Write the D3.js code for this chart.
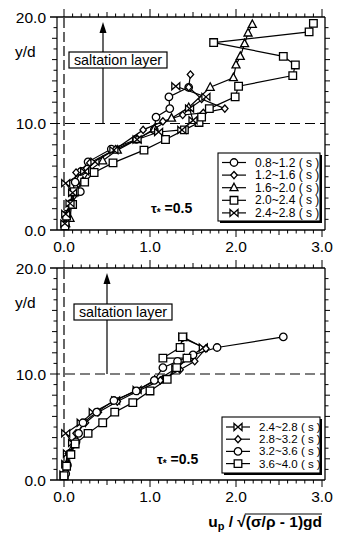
<!DOCTYPE html>
<html><head><meta charset="utf-8">
<script src="https://cdn.jsdelivr.net/npm/d3@7"></script>
<style>
html,body{margin:0;padding:0;background:#fff;}
svg{display:block;font-family:"Liberation Sans",Arial,Helvetica,sans-serif;}
</style></head>
<body><svg id="c" width="337" height="535"></svg>
<script>
// ---------- data ----------
const xTickLabels = ["0.0","1.0","2.0","3.0"];
const yTickLabels = ["0.0","10.0","20.0"];
const topLabels = ["0.8~1.2 ( s )","1.2~1.6 ( s )","1.6~2.0 ( s )","2.0~2.4 ( s )","2.4~2.8 ( s )"];
const topSymbols = ["circle","diamond","triangle","square","bowtie"];
const bottomLabels = ["2.4~2.8 ( s )","2.8~3.2 ( s )","3.2~3.6 ( s )","3.6~4.0 ( s )"];
const bottomSymbols = ["bowtie","diamond","circle","square"];
const tauLabel = "=0.5";
const layerLabel = "saltation layer";

// top panel series  [u_p/..., y/d]
const top_08_12 = [[0.01,0.5],[0.03,1.5],[0.08,2.5],[0.19,3.6],[0.13,4.5],[0.2,5.5],[0.28,6.4],[0.55,7.6],[0.84,8.5],[1.05,9.4],[1.07,10.6],[1.23,11.4],[1.22,12.5],[1.45,13.4]];
const top_12_16 = [[0.02,0.5],[0.04,1.5],[0.09,2.5],[0.1,3.5],[0.14,5.4],[0.3,6.3],[0.6,7.6],[0.92,9.4],[1.15,10.2],[1.38,10.8],[1.62,11.0],[1.87,11.4],[1.6,12.3],[1.45,13.4],[1.47,14.6]];
const top_16_20 = [[0.02,0.6],[0.07,1.1],[0.09,2.5],[0.12,3.5],[0.22,4.6],[0.3,5.6],[0.45,6.5],[0.62,7.5],[0.85,8.5],[1.05,9.5],[1.25,10.5],[1.45,11.5],[1.7,13.4],[1.97,14.3],[2.0,15.5],[2.05,16.3],[2.1,17.5],[2.14,18.5],[2.19,19.3]];
const top_20_24 = [[0.01,0.4],[0.03,1.3],[0.1,2.4],[0.12,3.6],[0.24,4.5],[0.35,5.4],[0.57,6.3],[0.93,7.5],[1.18,8.5],[1.4,9.4],[1.57,10.1],[1.6,10.6],[1.69,11.4],[1.99,12.5],[2.03,13.5],[2.66,14.5],[2.69,15.5],[2.55,16.3],[1.74,17.6],[2.85,18.6],[2.9,19.4]];
const top_24_28 = [[0.01,0.6],[0.02,1.5],[0.07,2.5],[0.1,3.5],[0.02,4.4],[0.24,5.5],[0.36,6.4],[0.58,7.5],[0.85,8.5],[1.1,9.2],[1.37,9.4],[1.5,10.3],[1.46,11.4],[1.65,12.5],[1.3,13.5]];

// bottom panel series
const bot_24_28 = [[0.0,0.5],[0.02,1.5],[0.04,2.5],[0.1,3.5],[0.02,4.4],[0.2,5.4],[0.34,6.4],[0.6,7.5],[0.85,8.5],[1.1,9.5],[1.3,10.5],[1.45,11.5],[1.62,12.5],[1.38,13.5]];
const bot_28_32 = [[0.01,0.5],[0.03,1.5],[0.05,2.5],[0.12,3.4],[0.14,4.4],[0.25,5.4],[0.4,6.4],[0.62,7.4],[0.86,8.4],[1.12,9.4],[1.35,10.4],[1.52,11.2],[1.65,12.4],[1.38,13.4]];
const bot_32_36 = [[0.02,0.6],[0.04,1.4],[0.07,2.5],[0.14,3.6],[0.17,4.4],[0.22,5.4],[0.38,6.4],[0.58,7.5],[0.84,8.4],[1.05,9.4],[1.15,10.6],[1.32,11.2],[1.5,11.8],[1.78,12.5],[2.55,13.5]];
const bot_36_40 = [[0.0,0.4],[0.03,1.3],[0.08,2.4],[0.13,3.4],[0.28,4.4],[0.45,5.4],[0.59,6.4],[0.8,7.3],[1.0,8.4],[1.2,9.5],[1.31,10.6],[1.43,11.5],[1.15,11.5],[1.35,12.5],[1.38,13.5]];

const topSeries = [top_08_12, top_12_16, top_16_20, top_20_24, top_24_28];
const bottomSeries = [bot_24_28, bot_28_32, bot_32_36, bot_36_40];

// ---------- drawing ----------
const svg = d3.select("#c");
const FRAME_L = 57, FRAME_R = 325;
const x = d3.scaleLinear().domain([0,3]).range([64,322]);

function symbolPath(type){
  switch(type){
    case "circle": return d3.symbol(d3.symbolCircle, 44)();
    case "square": return "M-3.8,-3.8H3.8V3.8H-3.8Z";
    case "triangle": return "M0,-4.5L4,3L-4,3Z";
    case "diamond": return "M0,-3.6L3.2,0L0,3.6L-3.2,0Z";
    case "bowtie": return "M-4,-3.5L4,3.5L4,-3.5L-4,3.5Z";
  }
}

function drawPanel(p){
  const y = d3.scaleLinear().domain([0,20]).range([p.yBottom, p.yTop]);
  const g = svg.append("g");
  const line = d3.line().x(d=>x(d[0])).y(d=>y(d[1]));

  // frame lines
  g.append("line").attr("x1",50).attr("x2",FRAME_R).attr("y1",y(0)).attr("y2",y(0)).attr("stroke","#000").attr("stroke-width",1.4);
  g.append("line").attr("x1",50).attr("x2",FRAME_R).attr("y1",y(20)).attr("y2",y(20)).attr("stroke","#000").attr("stroke-width",1.4);
  g.append("line").attr("x1",FRAME_L).attr("x2",FRAME_L).attr("y1",y(20)).attr("y2",y(0)).attr("stroke","#000").attr("stroke-width",1.2);
  g.append("line").attr("x1",FRAME_R).attr("x2",FRAME_R).attr("y1",y(20)).attr("y2",y(0)).attr("stroke","#000").attr("stroke-width",1.3);

  // x ticks (0.1 step)
  const xt = d3.range(0,31).map(i=>i/10);
  xt.forEach(v=>{
    const major = Math.abs(v-Math.round(v))<1e-6;
    const half = !major && Math.abs(v*2-Math.round(v*2))<1e-6;
    const len = major?7:(half?5:3.5);
    g.append("line").attr("x1",x(v)).attr("x2",x(v)).attr("y1",y(0)).attr("y2",y(0)+len).attr("stroke","#000").attr("stroke-width",1);
    g.append("line").attr("x1",x(v)).attr("x2",x(v)).attr("y1",y(20)).attr("y2",y(20)-(major?8:(half?5:3.5))).attr("stroke","#000").attr("stroke-width",1);
  });
  // y ticks (1 step)
  d3.range(1,20).forEach(v=>{
    if(v===10) return;
    const len = v%2===0?5:3.5;
    g.append("line").attr("x1",FRAME_L).attr("x2",FRAME_L-len).attr("y1",y(v)).attr("y2",y(v)).attr("stroke","#000").attr("stroke-width",1);
    g.append("line").attr("x1",FRAME_R).attr("x2",FRAME_R+len).attr("y1",y(v)).attr("y2",y(v)).attr("stroke","#000").attr("stroke-width",1);
  });

  // tick labels
  xTickLabels.forEach(t=>{
    g.append("text").attr("x",x(+t)).attr("y",y(0)+22).attr("text-anchor","middle").attr("font-size",15.5).text(t);
  });
  yTickLabels.forEach(t=>{
    g.append("text").attr("x",46).attr("y",y(+t)+5.5).attr("text-anchor","end").attr("font-size",15.5).text(t);
  });
  g.append("text").attr("x",15).attr("y",y(20)+40).attr("font-size",15.5).text("y/d");

  // reference dashed lines
  g.append("line").attr("x1",50).attr("x2",FRAME_R).attr("y1",y(10)).attr("y2",y(10)).attr("stroke","#000").attr("stroke-width",1.2).attr("stroke-dasharray","10,5");
  g.append("line").attr("x1",x(0)).attr("x2",x(0)).attr("y1",y(20)+1).attr("y2",y(0)).attr("stroke","#000").attr("stroke-width",1.2).attr("stroke-dasharray","10,4");

  // saltation layer arrow + box
  const ax = p.arrowX;
  g.append("line").attr("x1",ax).attr("x2",ax).attr("y1",y(10)).attr("y2",p.arrowTip+10).attr("stroke","#000").attr("stroke-width",1.2);
  g.append("path").attr("d",`M${ax},${p.arrowTip}L${ax+3.5},${p.arrowTip+11}L${ax-3.5},${p.arrowTip+11}Z`).attr("fill","#000");
  g.append("rect").attr("x",p.boxX).attr("y",p.boxY).attr("width",98).attr("height",16).attr("fill","#fff").attr("stroke","#000").attr("stroke-width",1.2);
  g.append("text").attr("x",p.boxX+49).attr("y",p.boxY+12.5).attr("text-anchor","middle").attr("font-size",14.3).text(layerLabel);

  // series
  p.series.forEach((s,i)=>{
    g.append("path").datum(s).attr("d",line).attr("fill","none").attr("stroke","#000").attr("stroke-width",1.2);
  });
  p.series.forEach((s,i)=>{
    g.selectAll(null).data(s).enter().append("path")
      .attr("transform",d=>`translate(${x(d[0])},${y(d[1])})`)
      .attr("d",symbolPath(p.symbols[i])).attr("fill","#fff").attr("stroke","#000").attr("stroke-width",1.3);
  });

  // tau label
  const tt = g.append("text").attr("x",p.tauX).attr("y",p.tauY).attr("font-size",14).attr("font-weight","bold");
  tt.append("tspan").attr("font-size",13).text("τ");
  tt.append("tspan").attr("font-size",10).attr("dy",3).text("*");
  tt.append("tspan").attr("dy",-3).text(" "+tauLabel);

  // legend
  const L = p.legend;
  g.append("rect").attr("x",L.x+2).attr("y",L.y+2).attr("width",L.w).attr("height",L.h).attr("fill","#000");
  g.append("rect").attr("x",L.x).attr("y",L.y).attr("width",L.w).attr("height",L.h).attr("fill","#fff").attr("stroke","#000").attr("stroke-width",1.1);
  p.labels.forEach((lab,i)=>{
    const ry = L.y + L.first + i*L.step;
    g.append("line").attr("x1",L.x+4).attr("x2",L.x+28).attr("y1",ry).attr("y2",ry).attr("stroke","#000").attr("stroke-width",1.2);
    g.append("path").attr("transform",`translate(${L.x+16},${ry})`).attr("d",symbolPath(p.symbols[i])).attr("fill","#fff").attr("stroke","#000").attr("stroke-width",1.3);
    g.append("text").attr("x",L.x+37).attr("y",ry+4).attr("font-size",L.fs).text(lab);
  });
}

drawPanel({yTop:17, yBottom:230, series:topSeries, symbols:topSymbols, labels:topLabels,
  arrowX:103, arrowTip:22, boxX:69, boxY:52, tauX:151, tauY:213,
  legend:{x:218,y:153,w:102,h:68,first:9.5,step:12.6,fs:12}});
drawPanel({yTop:268, yBottom:480, series:bottomSeries, symbols:bottomSymbols, labels:bottomLabels,
  arrowX:107, arrowTip:273, boxX:74, boxY:304, tauX:157, tauY:464,
  legend:{x:222,y:417,w:98,h:56,first:10,step:12.2,fs:11.5}});

// axis title
const at = svg.append("text").attr("font-size",15.5).attr("font-weight","bold").attr("y",527);
at.append("tspan").text("u");
at.append("tspan").attr("font-size",11).attr("dy",3).text("p");
at.append("tspan").attr("dy",-3).text(" / √");
const rad = at.append("tspan").text("(σ/ρ - 1)gd");
const w = at.node().getComputedTextLength();
at.attr("x",322-w);
// overline over radicand
const full = at.node().textContent;
const start = full.indexOf("(σ");
const n = at.node();
const x1 = n.getStartPositionOfChar(start).x;
const x2 = n.getEndPositionOfChar(full.length-1).x;
svg.append("line").attr("x1",x1-1).attr("x2",x2).attr("y1",527-13).attr("y2",527-13).attr("stroke","#000").attr("stroke-width",1.2);
</script></body></html>
